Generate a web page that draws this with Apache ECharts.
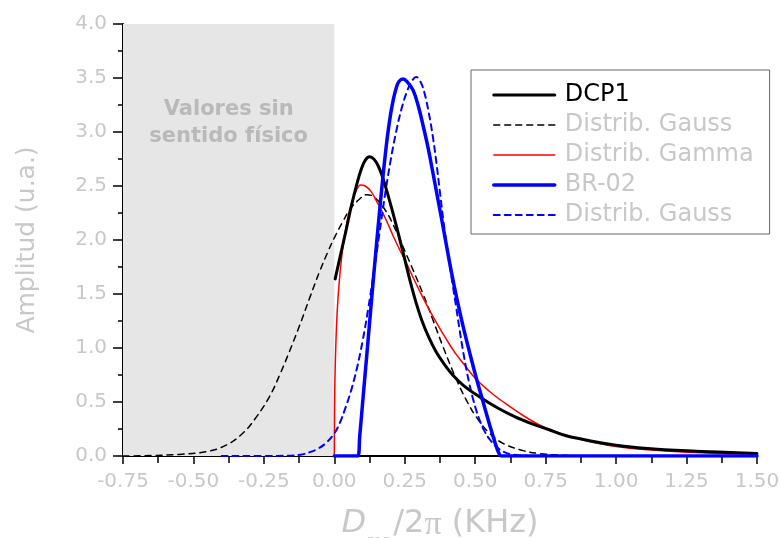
<!DOCTYPE html>
<html>
<head>
<meta charset="utf-8">
<script src="https://cdn.jsdelivr.net/npm/echarts@6/dist/echarts.min.js"></script>
<style>
html,body{margin:0;padding:0;background:#fff;}
#chart{width:781px;height:538px;}
</style>
</head>
<body>
<div id="chart"></div>
<script>
// ---- data ----
const seriesNames = ['DCP1', 'Distrib. Gauss', 'Distrib. Gamma', 'BR-02', 'Distrib. Gauss '];

const dcp1 = [[0.003,1.64],[0.02,1.84],[0.04,2.07],[0.06,2.31],[0.08,2.52],[0.095,2.65],[0.11,2.74],
  [0.125,2.77],[0.14,2.75],[0.155,2.69],[0.17,2.59],[0.19,2.42],[0.21,2.23],[0.23,2.03],[0.25,1.82],
  [0.27,1.61],[0.29,1.42],[0.31,1.26],[0.335,1.10],[0.36,0.97],[0.39,0.85],[0.42,0.75],[0.46,0.65],
  [0.52,0.54],[0.58,0.445],[0.64,0.365],[0.70,0.30],[0.76,0.245],[0.82,0.19],[0.88,0.155],[0.94,0.125],
  [1.0,0.10],[1.1,0.072],[1.25,0.048],[1.5,0.024]];

const gaussDcp = [[-0.75,0],[-0.65,0.004],[-0.55,0.015],[-0.455,0.04],[-0.384,0.10],[-0.325,0.21],
  [-0.277,0.36],[-0.23,0.55],[-0.194,0.75],[-0.159,0.97],[-0.123,1.21],[-0.088,1.46],[-0.052,1.71],
  [-0.023,1.89],[0.0,2.02],[0.03,2.17],[0.06,2.30],[0.09,2.38],[0.115,2.42],[0.14,2.40],[0.18,2.28],
  [0.22,2.08],[0.25,1.90],[0.28,1.72],[0.315,1.50],[0.35,1.26],[0.386,1.01],[0.433,0.71],[0.468,0.52],
  [0.504,0.36],[0.551,0.21],[0.60,0.115],[0.67,0.05],[0.72,0.025],[0.80,0.008],[0.90,0.002],[1.5,0]];

const gammaDcp = [[0,0],[0.0015,0.6],[0.005,1.0],[0.01,1.33],[0.018,1.63],[0.03,1.93],[0.045,2.17],
  [0.06,2.33],[0.075,2.44],[0.093,2.51],[0.11,2.50],[0.13,2.45],[0.15,2.36],[0.17,2.26],[0.19,2.15],
  [0.21,2.03],[0.232,1.91],[0.255,1.79],[0.28,1.65],[0.31,1.49],[0.34,1.34],[0.37,1.20],[0.40,1.07],
  [0.43,0.95],[0.46,0.85],[0.50,0.72],[0.55,0.60],[0.60,0.50],[0.67,0.375],[0.73,0.285],[0.79,0.22],
  [0.85,0.17],[0.92,0.125],[1.0,0.088],[1.1,0.06],[1.25,0.035],[1.5,0.014]];

const br02 = [[0,0],[0.083,0],[0.09,0.18],[0.10,0.48],[0.11,0.78],[0.12,1.08],[0.13,1.38],[0.14,1.68],
  [0.15,1.97],[0.16,2.25],[0.17,2.52],[0.18,2.77],[0.19,2.99],[0.20,3.17],[0.21,3.31],[0.22,3.41],
  [0.23,3.47],[0.244,3.49],[0.26,3.46],[0.279,3.39],[0.297,3.25],[0.315,3.06],[0.333,2.85],[0.35,2.62],
  [0.368,2.37],[0.386,2.12],[0.40,1.92],[0.415,1.71],[0.433,1.48],[0.457,1.20],[0.48,0.96],[0.504,0.72],
  [0.528,0.50],[0.551,0.29],[0.572,0.11],[0.585,0.02],[0.592,0],[1.5,0]];

const gaussBr = [[-0.40,0],[-0.20,0.001],[-0.12,0.012],[-0.088,0.035],[-0.06,0.065],[-0.03,0.12],[0.0,0.21],
  [0.02,0.31],[0.04,0.45],[0.06,0.61],[0.08,0.81],[0.10,1.06],[0.12,1.36],[0.14,1.70],[0.16,2.06],
  [0.18,2.42],[0.20,2.74],[0.22,3.01],[0.24,3.23],[0.26,3.39],[0.275,3.47],[0.29,3.51],[0.305,3.47],
  [0.32,3.36],[0.335,3.18],[0.35,2.95],[0.362,2.72],[0.374,2.46],[0.386,2.20],[0.398,1.96],[0.41,1.76],
  [0.421,1.57],[0.433,1.37],[0.445,1.16],[0.457,0.97],[0.468,0.81],[0.48,0.66],[0.492,0.53],[0.504,0.42],
  [0.516,0.33],[0.533,0.23],[0.551,0.155],[0.575,0.085],[0.60,0.04],[0.63,0.014],[0.70,0.001],[1.5,0]];

const shadedRangeX = [-0.75, 0];
const shadedRangeY = [0, 4];
const shadedLabel = 'Valores sin\nsentido físico';

// ---- chart ----
const FONT = 'DejaVu Sans';
const GRAY = '#c8c8c8';
const chart = echarts.init(document.getElementById('chart'), null, {renderer: 'canvas'});

function lineSeries(name, data, color, width, dashed) {
  return {
    name: name, type: 'line', data: data, symbol: 'none', showSymbol: false,
    smooth: 0.4, z: 3, silent: true,
    lineStyle: {color: color, width: width, type: dashed ? [6, 5] : 'solid', join: 'round', cap: 'round'},
    itemStyle: {color: color}
  };
}

const option = {
  animation: false,
  backgroundColor: '#ffffff',
  grid: {left: 123, right: 24, top: 24, bottom: 82, containLabel: false, outerBoundsMode: 'none'},
  legend: {
    orient: 'vertical', left: 471, top: 70,
    padding: [13, 16, 7, 21],
    borderColor: '#666666', borderWidth: 1, backgroundColor: '#ffffff',
    itemWidth: 61, itemHeight: 24, itemGap: 6,
    selectedMode: false,
    itemStyle: {opacity: 0, borderWidth: 0},
    lineStyle: {width: 'inherit', type: 'inherit'},
    textStyle: {fontFamily: FONT, fontSize: 24, lineHeight: 24, color: GRAY, padding: [0, 0, 0, 5]},
    data: [
      {name: seriesNames[0], textStyle: {color: '#000000'}},
      {name: seriesNames[1], textStyle: {color: GRAY}},
      {name: seriesNames[2], textStyle: {color: GRAY}},
      {name: seriesNames[3], textStyle: {color: GRAY}},
      {name: seriesNames[4], textStyle: {color: GRAY}}
    ]
  },
  xAxis: {
    type: 'value', min: -0.75, max: 1.5, interval: 0.25,
    name: '{d|D}{s|res}{t|/2}{p|π}{t| (KHz)}',
    nameLocation: 'middle', nameGap: 52,
    nameTextStyle: {
      color: GRAY,
      rich: {
        d: {fontFamily: FONT, fontStyle: 'italic', fontSize: 32, lineHeight: 36, verticalAlign: 'top', color: GRAY},
        s: {fontFamily: FONT, fontStyle: 'italic', fontSize: 15, lineHeight: 15, padding: [27, 4, 0, 0], verticalAlign: 'top', color: GRAY},
        t: {fontFamily: FONT, fontSize: 32, lineHeight: 36, verticalAlign: 'top', color: GRAY},
        p: {fontFamily: 'Liberation Serif', fontSize: 34, lineHeight: 36, verticalAlign: 'top', color: GRAY}
      }
    },
    axisLine: {show: true, onZero: false, lineStyle: {color: '#000', width: 2}},
    axisTick: {show: true, inside: false, length: 8, lineStyle: {color: '#000', width: 1.5}},
    minorTick: {show: true, splitNumber: 2, length: 7, lineStyle: {color: '#000', width: 1.5}},
    axisLabel: {margin: 16, color: GRAY, fontFamily: FONT, fontSize: 20,
      formatter: v => v.toFixed(2)},
    splitLine: {show: false}
  },
  yAxis: {
    type: 'value', min: 0, max: 4, interval: 0.5,
    name: 'Amplitud (u.a.)', nameLocation: 'middle', nameGap: 83,
    nameTextStyle: {color: GRAY, fontFamily: FONT, fontSize: 25, lineHeight: 25},
    axisLine: {show: true, onZero: false, lineStyle: {color: '#000', width: 2}},
    axisTick: {show: true, inside: false, length: 10, lineStyle: {color: '#000', width: 1.5}},
    minorTick: {show: true, splitNumber: 2, length: 5, lineStyle: {color: '#000', width: 1.5}},
    axisLabel: {margin: 16, color: GRAY, fontFamily: FONT, fontSize: 20,
      formatter: v => v.toFixed(1)},
    splitLine: {show: false}
  },
  series: [
    {
      name: '_shade', type: 'line', data: [], z: 1, silent: true,
      markArea: {
        silent: true,
        itemStyle: {color: '#e6e6e6'},
        label: {
          show: true, position: 'insideTop', distance: 72,
          color: '#b9b9b9', fontFamily: FONT, fontWeight: 'bold', fontSize: 21, lineHeight: 27,
          align: 'center'
        },
        data: [[
          {name: shadedLabel, xAxis: shadedRangeX[0], yAxis: shadedRangeY[0]},
          {xAxis: shadedRangeX[1], yAxis: shadedRangeY[1]}
        ]]
      }
    },
    lineSeries(seriesNames[1], gaussDcp, '#000000', 1.5, true),
    lineSeries(seriesNames[2], gammaDcp, '#ff0000', 1.5, false),
    lineSeries(seriesNames[4], gaussBr, '#0000ff', 2, true),
    lineSeries(seriesNames[0], dcp1, '#000000', 3, false),
    lineSeries(seriesNames[3], br02, '#0000ff', 3.5, false)
  ]
};
chart.setOption(option);
</script>
</body>
</html>
